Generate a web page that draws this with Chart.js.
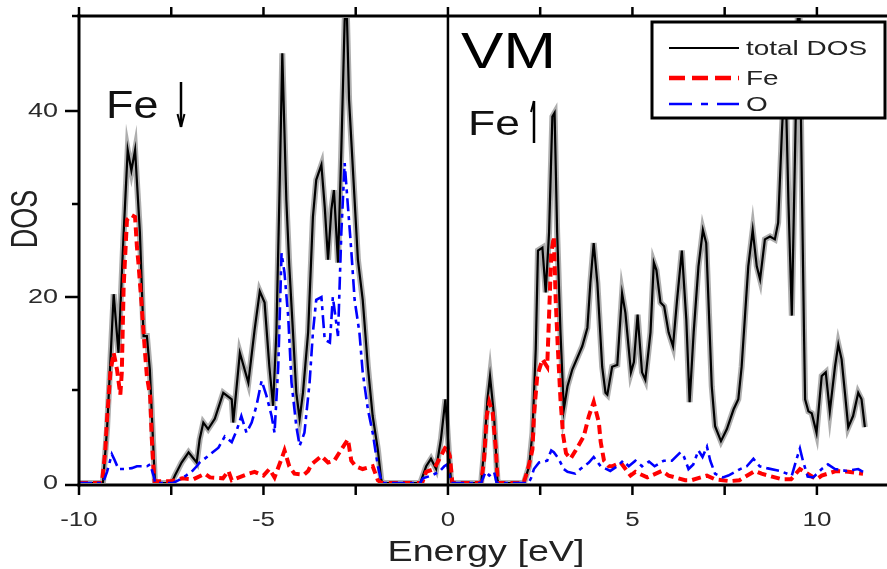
<!DOCTYPE html>
<html>
<head>
<meta charset="utf-8">
<title>DOS – VM</title>
<script src="https://cdn.jsdelivr.net/npm/chart.js@4.4.1/dist/chart.umd.min.js"></script>
<style>
  html, body { margin: 0; padding: 0; background: #fff; }
  #c { display: block; }
</style>
</head>
<body>
<canvas id="c" width="887" height="569"></canvas>
<script>
// Density of states, [energy (eV), DOS] pairs
const totalDOS = [
  [-10,0],[-9.35,0],[-9.24,5.8],[-9.06,20.3],[-8.93,14],[-8.8,26],[-8.68,35.8],[-8.58,33.6],
  [-8.48,35.8],[-8.35,27],[-8.25,15.8],[-8.16,15.8],[-8.08,12.2],[-7.98,3.3],[-7.94,0],
  [-7.49,0],[-7.4,0.8],[-7.22,2.2],[-7.03,3.3],[-6.81,2.2],[-6.73,4.7],[-6.63,6.5],[-6.5,5.8],
  [-6.32,6.9],[-6.09,9.7],[-5.86,9],[-5.82,6.5],[-5.64,14],[-5.41,10.8],[-5.24,16.5],[-5.1,20.6],
  [-4.97,19.4],[-4.84,12.5],[-4.74,8.3],[-4.65,16.2],[-4.56,32.2],[-4.49,46.2],[-4.38,30.4],
  [-4.3,23.3],[-4.2,16.2],[-4.11,9.7],[-4.02,6.9],[-3.93,9.7],[-3.79,16.2],[-3.66,28.6],
  [-3.57,32.6],[-3.43,34.2],[-3.34,29.7],[-3.25,24],[-3.16,29.4],[-3.09,31.5],[-2.98,23.7],
  [-2.89,35.8],[-2.8,49.7],[-2.75,52],[-2.68,41.2],[-2.58,34],[-2.44,24],[-2.31,19.7],
  [-2.17,12.5],[-2.04,7.2],[-1.9,3.6],[-1.81,0.4],[-1.78,0],
  [-0.75,0],[-0.59,1.8],[-0.46,2.6],[-0.32,1.5],[-0.19,4.7],[-0.07,9],[0.02,3.6],[0.08,0.4],[0.1,0],
  [0.9,0],[0.98,3.6],[1.07,9],[1.14,11.5],[1.25,7.2],[1.34,0.4],[1.37,0],
  [2.06,0],[2.2,1.8],[2.29,5.4],[2.38,14.4],[2.44,25],[2.56,25.3],[2.65,20.5],[2.74,26.9],
  [2.83,39.4],[2.89,39.8],[2.96,26.9],[3.05,16.2],[3.14,7.9],[3.24,10.4],[3.37,12.2],
  [3.64,14.7],[3.78,16.7],[3.86,21.5],[3.95,25.8],[4.05,21.5],[4.18,12.5],[4.27,9.7],
  [4.32,9.5],[4.45,12.5],[4.59,12.7],[4.72,20.4],[4.81,18.3],[4.96,11.9],[5.04,13],
  [5.14,18.1],[5.26,11.9],[5.35,11.1],[5.49,16.2],[5.58,23.7],[5.65,22.9],[5.76,19.4],
  [5.86,19],[5.98,16.2],[6.1,14.7],[6.21,19.7],[6.34,25],[6.46,17.6],[6.55,8.7],[6.66,16.2],
  [6.79,23.3],[6.91,27.2],[7.0,25.8],[7.06,19.7],[7.15,10.4],[7.24,6.1],[7.4,4.5],[7.56,5.8],
  [7.74,7.9],[7.87,9],[7.96,12.5],[8.05,17.9],[8.14,23.3],[8.26,27.2],[8.37,23.3],[8.46,21.9],
  [8.59,26.2],[8.73,26.5],[8.86,26.2],[8.95,28],[9.05,37.6],[9.14,45],[9.23,30],[9.32,18],
  [9.42,38],[9.51,56],[9.6,30],[9.65,16.2],[9.68,9],[9.77,7.7],[9.86,7.5],[9.99,5.4],
  [10.13,11.5],[10.24,11.9],[10.35,7.7],[10.49,12.5],[10.58,14.9],[10.67,13.3],[10.76,9.7],
  [10.85,6],[10.98,7.2],[11.12,9.7],[11.21,9],[11.3,6]
];

const feDOS = [
  [-10,0],[-9.38,0],[-9.29,3.3],[-9.24,6.9],[-9.15,11.9],[-9.06,14],[-8.97,12.2],[-8.88,9.5],
  [-8.84,11.9],[-8.79,21.1],[-8.7,28.3],[-8.57,28.8],[-8.48,28.6],[-8.43,25.4],[-8.39,23.7],
  [-8.3,19],[-8.25,16.2],[-8.21,14],[-8.16,11.5],[-8.07,9.3],[-8.03,5],[-7.98,1.5],[-7.95,0.2],
  [-7.5,0.2],[-7.2,0.5],[-6.9,0.4],[-6.59,1],[-6.45,0.6],[-6.1,0.5],[-5.95,1.3],[-5.86,0.3],
  [-5.41,1],[-5.24,1.2],[-5.0,0.8],[-4.84,1.5],[-4.7,0.6],[-4.51,2.6],[-4.43,3.5],[-4.3,1.8],
  [-4.16,1],[-3.9,0.9],[-3.79,1.3],[-3.7,2],[-3.43,2.9],[-3.25,2.2],[-3.08,2.4],[-2.89,3.6],
  [-2.71,4.7],[-2.62,2.4],[-2.5,1.8],[-2.31,1.5],[-2.04,1.8],[-1.9,0.3],[-1.8,0],
  [-0.7,0],[-0.59,1.2],[-0.38,1.5],[-0.19,2.9],[-0.05,4],[0.05,2.9],[0.12,0],
  [0.9,0],[0.98,2.6],[1.05,7.2],[1.12,8.7],[1.21,7.6],[1.3,3.6],[1.35,0],
  [2.05,0],[2.15,1.2],[2.29,3.6],[2.33,7.2],[2.42,11.5],[2.56,13.3],[2.69,12.5],[2.74,17.9],
  [2.8,24.7],[2.87,26.5],[2.92,19.7],[2.98,14.4],[3.05,9],[3.12,5.2],[3.2,3.2],[3.32,2.6],
  [3.46,3.5],[3.68,5],[3.82,7.2],[3.95,8.7],[4.09,6.5],[4.14,4.4],[4.23,2.4],[4.36,1.8],
  [4.45,1.8],[4.68,2.2],[4.95,0.8],[5.08,1.2],[5.4,0.6],[5.8,1.3],[5.98,0.8],[6.43,0.3],
  [6.6,0.3],[7.02,0.8],[7.24,0.4],[7.64,0.2],[7.9,0.3],[8.32,1.3],[8.5,1],[9.05,0.4],
  [9.3,0.4],[9.54,1.5],[9.99,0.4],[10.13,0.8],[10.53,1.3],[10.85,1.2],[11.25,1]
];

const oDOS = [
  [-10,0],[-9.35,0],[-9.24,1.2],[-9.11,3.1],[-9.05,2.6],[-8.93,1.5],[-8.76,1.5],[-8.57,1.6],
  [-8.43,1.8],[-8.16,1.8],[-8.07,2],[-7.98,0.8],[-7.93,0],[-7.45,0],[-7.3,0.3],[-7.1,0.8],
  [-6.95,1.2],[-6.81,1.8],[-6.73,2.2],[-6.5,2.9],[-6.22,3.8],[-6.05,5],[-5.86,4.4],[-5.73,5.6],
  [-5.6,7.2],[-5.46,5.4],[-5.32,6.5],[-5.19,8.3],[-5.05,11],[-4.92,9.4],[-4.78,7.2],[-4.7,5.4],
  [-4.6,12.5],[-4.51,24.7],[-4.43,22.6],[-4.33,17.9],[-4.24,10.8],[-4.11,6.1],[-4.02,4],
  [-3.89,5.4],[-3.75,10.8],[-3.66,16.2],[-3.57,19.7],[-3.43,20],[-3.34,15.4],[-3.2,15.1],
  [-3.12,20],[-2.98,15.8],[-2.89,26.9],[-2.8,34.4],[-2.71,29.7],[-2.62,25],[-2.53,19.7],
  [-2.4,16.2],[-2.31,11.9],[-2.17,7.9],[-2.04,5.4],[-1.9,1.8],[-1.81,0.3],[-1.78,0],
  [-0.75,0],[-0.68,0.5],[-0.45,0.8],[-0.24,1.2],[-0.1,1.8],[-0.02,2],[0.05,0.5],[0.1,0],
  [0.9,0],[1.02,1.2],[1.12,0.8],[1.25,1.2],[1.32,0],
  [2.18,0],[2.25,0.5],[2.33,1.5],[2.47,2.2],[2.69,2.4],[2.8,3.5],[2.87,3.3],[3.0,2.6],
  [3.14,1.5],[3.24,1.2],[3.45,1.0],[3.59,1.5],[3.82,2.2],[3.95,2.8],[4.14,1.8],[4.4,1.3],
  [4.59,1.8],[4.75,2.4],[4.9,1.8],[5.08,2.4],[5.26,1.8],[5.45,2.3],[5.6,1.8],[5.85,2.4],
  [6.07,2.4],[6.3,3.3],[6.4,2.8],[6.52,1.5],[6.65,2.0],[6.79,3.5],[6.9,2.8],[7.02,3.9],
  [7.11,2.4],[7.24,1.0],[7.45,0.6],[7.6,0.8],[7.92,1.5],[8.1,1.8],[8.28,2.6],[8.45,1.8],
  [8.64,1.6],[9.0,1.3],[9.32,0.8],[9.45,2.6],[9.54,3.7],[9.62,2.4],[9.75,0.7],[9.9,0.6],
  [10.13,1.5],[10.3,2.0],[10.49,1.5],[10.8,1.3],[11.12,1.5],[11.25,1.2]
];

// Axis ticks
const xMajorTicks = [-10, -5, 0, 5, 10];
const xMinorTicks = [-7.5, -2.5, 2.5, 7.5];
const yMajorTicks = [0, 20, 40];
const yMinorTicks = [10, 30, 50];
const xTickLabels = ['-10', '-5', '0', '5', '10'];
const yTickLabels = ['0', '20', '40'];

const xTitle = 'Energy [eV]';
const yTitle = 'DOS';
const seriesLabels = ['total DOS', 'Fe', 'O'];
const panelTitle = 'VM';
const spinDownLabel = 'Fe';
const spinUpLabel = 'Fe';

const FONT = '"Liberation Sans", Arial, Helvetica, sans-serif';
const toPoints = arr => arr.map(([e, d]) => ({ x: e, y: d }));

// Text drawn with a horizontal stretch factor
function drawText(ctx, str, x, y, size, sx, align, baseline, color, rotate) {
  ctx.save();
  ctx.translate(x, y);
  ctx.scale(sx, 1);
  if (rotate) ctx.rotate(rotate);
  ctx.font = size + 'px ' + FONT;
  ctx.fillStyle = color || '#000';
  ctx.textAlign = align;
  ctx.textBaseline = baseline;
  ctx.fillText(str, 0, 0);
  ctx.restore();
}

function seg(ctx, x1, y1, x2, y2) {
  ctx.beginPath(); ctx.moveTo(x1, y1); ctx.lineTo(x2, y2); ctx.stroke();
}

const STYLES = [
  { color: '#000000', width: 2.2, dash: [] },
  { color: '#ff0000', width: 4, dash: [9, 5] },
  { color: '#0000ff', width: 2.6, dash: [13, 5, 4, 5] }
];

// Frame, ticks, labels, annotations
const framePlugin = {
  id: 'frame',
  afterDatasetsDraw(chart) {
    const { ctx, chartArea: a, scales: { x, y } } = chart;
    const topY = a.top - 2, botY = a.bottom + 2, leftX = a.left;
    ctx.save();
    ctx.strokeStyle = '#000';
    ctx.lineCap = 'butt';

    // Fermi level
    ctx.lineWidth = 2.5;
    const x0 = x.getPixelForValue(0);
    seg(ctx, x0, topY, x0, botY);

    // axes
    ctx.lineWidth = 3;
    seg(ctx, leftX - 1.5, topY, a.right, topY);
    seg(ctx, leftX - 1.5, botY, a.right, botY);
    seg(ctx, leftX, topY - 1.5, leftX, botY + 1.5);

    // x ticks (bottom outward, top outward)
    ctx.lineWidth = 2.5;
    [...xMajorTicks, ...xMinorTicks].forEach(v => {
      const px = x.getPixelForValue(v);
      seg(ctx, px, botY, px, botY + 10);
      seg(ctx, px, topY, px, topY - 9);
    });
    // y ticks
    yMajorTicks.forEach(v => {
      const py = y.getPixelForValue(v) + 2 * (v === 0);
      seg(ctx, leftX, py, leftX - 14, py);
    });
    yMinorTicks.forEach(v => {
      const py = v === 50 ? topY : y.getPixelForValue(v);
      seg(ctx, leftX, py, leftX - 7, py);
    });

    // tick labels
    xMajorTicks.forEach((v, i) => {
      drawText(ctx, xTickLabels[i], x.getPixelForValue(v), 520, 20, 1.3, 'center', 'middle', '#2a2a2a');
    });
    yMajorTicks.forEach((v, i) => {
      drawText(ctx, yTickLabels[i], 58, y.getPixelForValue(v), 20, 1.35, 'right', 'middle', '#2a2a2a');
    });

    // axis titles
    drawText(ctx, xTitle, 486, 561, 29, 1.3, 'center', 'alphabetic', '#222');
    drawText(ctx, yTitle, 27, 219, 27, 1.4, 'center', 'middle', '#222', -Math.PI / 2);

    // panel annotations
    drawText(ctx, panelTitle, 461, 68, 50, 1.27, 'left', 'alphabetic', '#000');
    drawText(ctx, spinDownLabel, 106, 118, 39, 1.15, 'left', 'alphabetic', '#111');
    drawText(ctx, spinUpLabel, 468, 135, 35, 1.27, 'left', 'alphabetic', '#111');

    // spin arrows
    ctx.lineWidth = 2.5;
    seg(ctx, 181, 82, 181, 127);
    ctx.lineWidth = 2;
    seg(ctx, 181, 127, 177.5, 114);
    seg(ctx, 181, 127, 184.5, 114);
    ctx.lineWidth = 2.5;
    seg(ctx, 534, 143, 534, 101);
    ctx.lineWidth = 2;
    seg(ctx, 534, 101, 531, 112);
    ctx.restore();
  },
  afterDraw(chart) {
    const { ctx } = chart;
    const bx = 652, by = 22, bw = 233, bh = 96;
    ctx.save();
    ctx.fillStyle = '#fff';
    ctx.fillRect(bx, by, bw, bh);
    ctx.strokeStyle = '#000';
    ctx.lineWidth = 3;
    ctx.strokeRect(bx, by, bw, bh);
    const rows = [48, 78, 104];
    seriesLabels.forEach((lab, i) => {
      const s = STYLES[i];
      ctx.save();
      ctx.strokeStyle = s.color;
      ctx.lineWidth = s.width + (i === 1 ? 0.5 : 0);
      ctx.setLineDash(i === 1 ? [16, 7] : (i === 2 ? [23, 9, 7, 9] : []));
      seg(ctx, 669, rows[i], 739, rows[i]);
      ctx.restore();
      drawText(ctx, lab, 746, rows[i] + 1, 21, 1.33, 'left', 'middle', '#222');
    });
    ctx.restore();
  }
};

const chart = new Chart(document.getElementById('c'), {
  type: 'line',
  data: {
    datasets: [
      {
        label: 'halo', data: toPoints(totalDOS), borderColor: 'rgba(140,140,140,0.7)',
        borderWidth: 6, order: 4, clip: 0
      },
      {
        label: seriesLabels[0], data: toPoints(totalDOS), borderColor: STYLES[0].color,
        borderWidth: STYLES[0].width, order: 3, clip: 0
      },
      {
        label: seriesLabels[1], data: toPoints(feDOS), borderColor: STYLES[1].color,
        borderWidth: STYLES[1].width, borderDash: STYLES[1].dash, order: 2, clip: 0
      },
      {
        label: seriesLabels[2], data: toPoints(oDOS), borderColor: STYLES[2].color,
        borderWidth: STYLES[2].width, borderDash: STYLES[2].dash, order: 1, clip: 0
      }
    ]
  },
  options: {
    responsive: false,
    animation: false,
    layout: { padding: { left: 79, top: 18, right: 0, bottom: 86 } },
    elements: { point: { radius: 0 }, line: { tension: 0, borderJoinStyle: 'miter', fill: false } },
    scales: {
      x: { type: 'linear', min: -10, max: 11.9, display: false },
      y: { type: 'linear', min: 0, max: 50, display: false }
    },
    plugins: { legend: { display: false }, tooltip: { enabled: false } }
  },
  plugins: [framePlugin]
});
</script>
</body>
</html>
